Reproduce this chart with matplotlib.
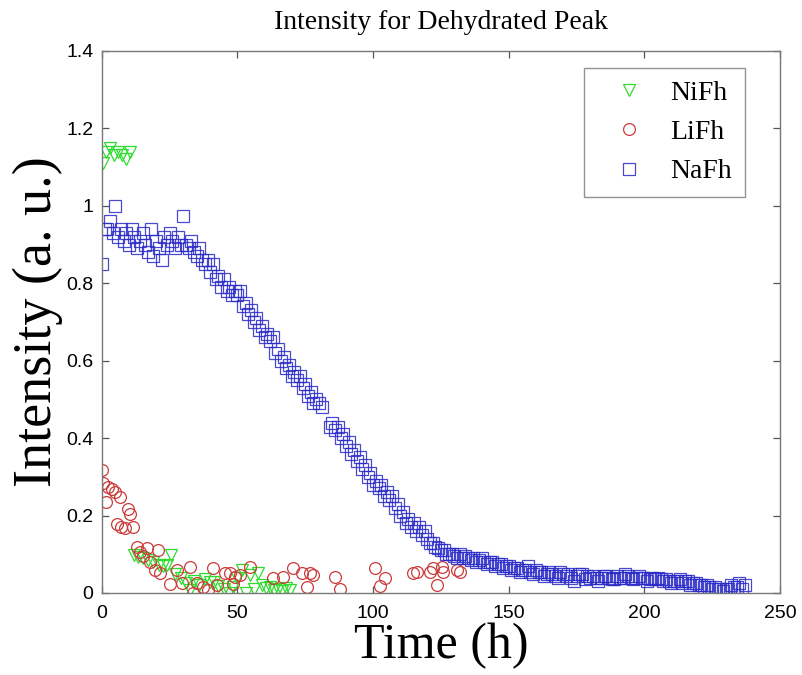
import numpy as np
import matplotlib
matplotlib.use('Agg')
import matplotlib.pyplot as plt
from matplotlib.ticker import FuncFormatter

# ---- dane ----
nifh_t = [0.5, 1.5, 3, 4.5, 6, 7.5, 9, 10.5,
          12, 13.5, 15, 17, 19, 21, 22.5, 24, 25.5, 27, 29, 31, 32.5, 34, 36, 38,
          40, 41.5, 43, 45, 47, 48.5, 50, 51.5, 53, 54.5, 56, 57.5, 59, 60.5,
          62, 63.5, 65, 66.5, 68, 69.5]
nifh_y = [1.11, 1.14, 1.15, 1.13, 1.14, 1.13, 1.12, 1.14,
          0.098, 0.093, 0.09, 0.085, 0.08, 0.072, 0.07, 0.072, 0.098, 0.05, 0.04,
          0.026, 0.008, 0.03, 0.02, 0.035, 0.028, 0.028, 0.018, 0.01, 0.0, 0.015,
          0.04, 0.06, 0.0, 0.047, 0.01, 0.052, 0.02, 0.012, 0.015, 0.008, 0.01,
          0.005, 0.012, 0.008]

lifh_t = [0, 0.4, 1.5, 2.3, 3.6, 4.8, 5.4, 6.6, 7.2, 8.4, 9.7, 10.4, 11.5,
          12.8, 14, 15.2, 16.5, 17.7, 19.5, 20.6, 21.4, 25, 27.6, 29.5, 32.4,
          33.6, 35, 37.2, 39, 41, 42.4, 45.4, 47.2, 48.3, 49, 51, 54.6, 63,
          66.7, 70.4, 73.7, 75.6, 76.7, 77.8, 85.9, 87.8, 100.7, 102.5, 104.4,
          114.7, 116.2, 121, 122, 123.5, 125.4, 125.7, 130.9, 132]
lifh_y = [0.318, 0.284, 0.235, 0.274, 0.269, 0.261, 0.178, 0.248, 0.17, 0.168,
          0.217, 0.204, 0.171, 0.119, 0.106, 0.096, 0.116, 0.08, 0.059, 0.111,
          0.052, 0.023, 0.059, 0.026, 0.067, 0.0, 0.026, 0.016, 0.008, 0.065,
          0.021, 0.052, 0.052, 0.023, 0.041, 0.047, 0.067, 0.039, 0.041, 0.065,
          0.052, 0.016, 0.052, 0.047, 0.041, 0.01, 0.065, 0.018, 0.039, 0.052,
          0.054, 0.054, 0.065, 0.021, 0.067, 0.054, 0.059, 0.054]

# pomiary NaFh co 1 h (brak pomiarow 82-83 h)
nafh_t = list(range(0, 82)) + list(range(84, 238))
nafh_y = [0.85, 0.94, 0.94, 0.96, 0.93, 1.00, 0.92, 0.94, 0.91, 0.93,
          0.90, 0.94, 0.92, 0.89, 0.91, 0.93, 0.90, 0.88, 0.94, 0.87,
          0.91, 0.89, 0.86, 0.92, 0.90, 0.93, 0.91, 0.89, 0.92, 0.90,
          0.975, 0.90, 0.89, 0.91, 0.88, 0.87, 0.89, 0.86, 0.85, 0.86,
          0.83, 0.85, 0.81, 0.82, 0.79, 0.81, 0.78, 0.79, 0.77, 0.78,
          0.77, 0.78, 0.74, 0.75, 0.72, 0.73, 0.70, 0.71, 0.68, 0.69,
          0.66, 0.67, 0.65, 0.66, 0.62, 0.63, 0.60, 0.61, 0.58, 0.59,
          0.56, 0.57, 0.55, 0.56, 0.53, 0.54, 0.51, 0.52, 0.49, 0.50,
          0.49, 0.48,
          0.43, 0.44, 0.42, 0.43, 0.40, 0.41,
          0.38, 0.39, 0.36, 0.37, 0.34, 0.35, 0.32, 0.33, 0.30, 0.31,
          0.28, 0.29, 0.27, 0.28, 0.25, 0.26, 0.24, 0.25, 0.22, 0.23,
          0.20, 0.21, 0.18, 0.19, 0.17, 0.18, 0.16, 0.17, 0.15, 0.16,
          0.14, 0.13, 0.13, 0.12, 0.115, 0.11, 0.11, 0.10, 0.10, 0.10,
          0.095, 0.09, 0.10, 0.09, 0.095, 0.09, 0.085, 0.09, 0.08, 0.085,
          0.09, 0.08, 0.075, 0.08, 0.08, 0.07, 0.075, 0.075, 0.065, 0.07,
          0.07, 0.06, 0.065, 0.065, 0.055, 0.06, 0.06, 0.07, 0.055, 0.05,
          0.06, 0.055, 0.055, 0.045, 0.05, 0.055, 0.05, 0.045, 0.04, 0.055,
          0.05, 0.045, 0.05, 0.04, 0.03, 0.045, 0.05, 0.05, 0.035, 0.045,
          0.04, 0.045, 0.04, 0.03, 0.04, 0.045, 0.045, 0.04, 0.035, 0.035,
          0.045, 0.04, 0.04, 0.05, 0.045, 0.04, 0.035, 0.04, 0.045, 0.04,
          0.04, 0.03, 0.035, 0.04, 0.035, 0.04, 0.035, 0.03, 0.035, 0.03,
          0.025, 0.03, 0.03, 0.035, 0.025, 0.03, 0.03, 0.02, 0.025, 0.025,
          0.02, 0.02, 0.015, 0.02, 0.015, 0.01, 0.015, 0.01, 0.01, 0.005,
          0.01, 0.01, 0.02, 0.015, 0.015, 0.025, 0.01, 0.02]

kolor_ni = '#2edc2e'
kolor_li = '#cc3a3a'
kolor_na = '#2a2ac8'

fig = plt.figure(figsize=(8.02, 6.75), dpi=100)
ax = fig.add_axes([0.127, 0.1215, 0.8455, 0.803])

ax.plot(nifh_t, nifh_y, linestyle='none', marker='v', markersize=9,
        markerfacecolor='none', markeredgecolor=kolor_ni, markeredgewidth=0.9, label='NiFh')
ax.plot(lifh_t, lifh_y, linestyle='none', marker='o', markersize=8.5,
        markerfacecolor='none', markeredgecolor=kolor_li, markeredgewidth=0.9, label='LiFh')
ax.plot(nafh_t, nafh_y, linestyle='none', marker='s', markersize=8,
        markerfacecolor='none', markeredgecolor=kolor_na, markeredgewidth=0.9,
        alpha=0.85, label='NaFh')

ax.set_xlim(0, 250)
ax.set_ylim(0, 1.4)
ax.set_xticks([0, 50, 100, 150, 200, 250])
ax.set_yticks([0, 0.2, 0.4, 0.6, 0.8, 1.0, 1.2, 1.4])
ax.yaxis.set_major_formatter(FuncFormatter(lambda v, p: f'{v:g}'))

for s in ax.spines.values():
    s.set_color('#777777')
    s.set_linewidth(1.0)
ax.tick_params(direction='in', length=5, width=0.9, color='#555555',
               top=True, right=True, labelsize=14)
ax.tick_params(axis='y', pad=6)
ax.tick_params(axis='x', pad=9)
for lab in ax.get_xticklabels() + ax.get_yticklabels():
    lab.set_fontfamily('Liberation Sans')

ax.set_title('Intensity for Dehydrated Peak', fontfamily='Liberation Serif',
             fontsize=20, pad=16)
ax.set_xlabel('Time (h)', fontfamily='Liberation Serif', fontsize=36, labelpad=0)
ax.set_ylabel('Intensity (a. u.)', fontfamily='Liberation Serif', fontsize=39, labelpad=2)

leg = ax.legend(loc='upper right', bbox_to_anchor=(0.948, 0.969), fancybox=False,
                prop={'family': 'Liberation Serif', 'size': 20}, borderpad=0.45,
                labelspacing=0.5, handlelength=2.3, handletextpad=0.35,
                borderaxespad=0)
leg.get_frame().set_edgecolor('#777777')
leg.get_frame().set_linewidth(1.0)

plt.savefig('out.png', dpi=100)
